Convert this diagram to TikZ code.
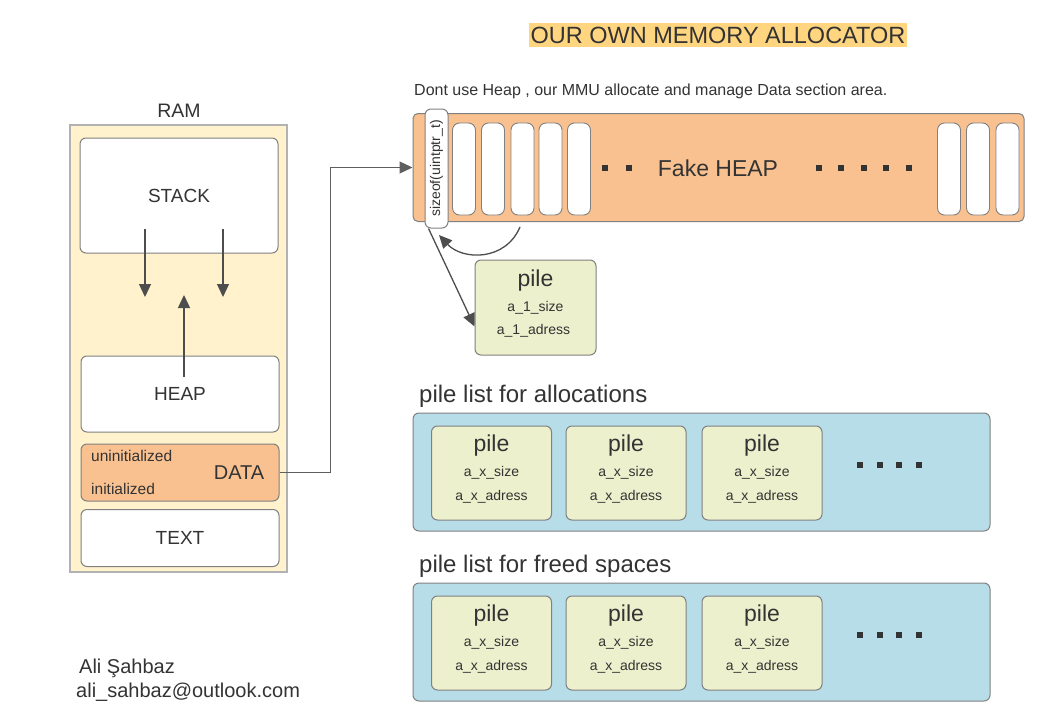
\documentclass[tikz,border=0pt]{standalone}
\usepackage{fontspec}
\setmainfont{Liberation Sans}
\definecolor{RamYellow}{RGB}{255,242,204}
\definecolor{SegOrange}{RGB}{249,193,144}
\definecolor{TitleGold}{RGB}{255,213,128}
\definecolor{PileOlive}{RGB}{237,240,204}
\definecolor{ListBlue}{RGB}{183,221,232}
\definecolor{EdgeGray}{RGB}{128,128,128}
\definecolor{InkGray}{RGB}{51,51,51}
\definecolor{ArrowGray}{RGB}{77,77,77}
\usetikzlibrary{arrows.meta, positioning, calc}
\newcommand{\pxsize}[1]{\fontsize{#1}{#1}\selectfont}

\begin{document}
\begin{tikzpicture}[x=1pt, y=-1pt, text=InkGray, inner sep=0pt,
	ramseg/.style={draw=EdgeGray, line width=1pt, rounded corners=6pt, fill=white,
		minimum width=198pt, font=\pxsize{19}},
	cell/.style={draw=EdgeGray, line width=0.9pt, rounded corners=7pt, fill=white,
		minimum width=23pt, minimum height=92pt},
	pilebox/.style={draw=EdgeGray, line width=1pt, rounded corners=6pt, fill=PileOlive,
		minimum width=120pt, minimum height=94pt},
	listbox/.style={draw=EdgeGray, line width=1pt, rounded corners=6pt, fill=ListBlue,
		minimum width=577pt, minimum height=118pt},
	pilehead/.style={font=\pxsize{23}},
	pilefield/.style={font=\pxsize{14}},
	caption/.style={anchor=west, font=\pxsize{24}},
	dotsq/.style={fill=InkGray, minimum size=6pt},
	arr/.style={ArrowGray, line width=1.3pt, -{Triangle[length=13pt,width=12pt]}}]
	\useasboundingbox (0,0) rectangle (1052,720);

	\node[fill=TitleGold, inner xsep=1.5pt, minimum height=24pt, font=\pxsize{23.5}] (ttl) at (718,35) {OUR OWN MEMORY ALLOCATOR};
	\node[anchor=west, font=\pxsize{16}] (sub) at (414,91) {Dont use Heap , our MMU allocate and manage Data section area.};

	% RAM
	\node[font=\pxsize{19.5}] (ramlbl) at (179,111) {RAM};
	\node[draw=black!30, line width=2pt, fill=RamYellow, minimum width=217pt, minimum height=447pt] (ram) at (178.5,348.5) {};
	\node[ramseg, minimum height=115pt] (stack) at (179,195.5) {STACK};
	\node[ramseg, minimum height=76pt] (heap) at (180,394) {HEAP};
	\node[ramseg, minimum height=57pt, fill=SegOrange] (data) at (180,472.5) {};
	\node[ramseg, minimum height=57pt] (text) at (180,538) {TEXT};
	\node[anchor=west, font=\pxsize{15.5}] (uninit) at (91,456) {uninitialized};
	\node[anchor=west, font=\pxsize{15.5}] (init) at (91,488.5) {initialized};
	\node[font=\pxsize{20}] (datalbl) at (239,472.5) {DATA};

	\coordinate (sl0) at (145,229);
	\coordinate (sl1) at (145,297);
	\coordinate (sr0) at (223,229);
	\coordinate (sr1) at (223,297);
	\coordinate (hp0) at (184,377);
	\coordinate (hp1) at (184,295);
	\draw[arr] (sl0) -- (sl1);
	\draw[arr] (sr0) -- (sr1);
	\draw[arr] (hp0) -- (hp1);

	% fake heap
	\node[draw=EdgeGray, line width=1pt, rounded corners=5pt, fill=SegOrange,
		minimum width=611pt, minimum height=108pt] (fake) at (718.5,167.5) {};
	\foreach \x [count=\i] in {464,493,522.5,550.5,579,949,978,1007.5}
		\node[cell] (c\i) at (\x,169) {};
	\node[draw=EdgeGray, line width=1pt, rounded corners=6pt, fill=white,
		minimum width=23pt, minimum height=119pt] (szf) at (436.5,168.5) {};
	\node[rotate=90, font=\pxsize{14}] (szftxt) at (szf.center) {sizeof(uintptr\_t)};
	\foreach \x [count=\i] in {605,629,818.5,841,864,886,909}
		\node[dotsq] (d\i) at (\x,167.5) {};
	\node[font=\pxsize{23}] (fakelbl) at (718,168) {Fake HEAP};

	\draw[ArrowGray!90, line width=1.3pt, -{Triangle[length=13pt,width=12pt]}]
		(data.east) -- ++(51,0) |- (fake.west);

	% pile for a_1
	\node[pilebox, minimum width=121pt, minimum height=95pt] (pile1) at (535.5,307.5) {};
	\node[pilehead] (p1h) at (535.5,281) {pile};
	\node[pilefield] (p1s) at (535.5,307.5) {a\_1\_size};
	\node[pilefield] (p1a) at (533.5,331) {a\_1\_adress};

	\coordinate (loopA) at (520,227);
	\coordinate (loopB) at (439,235);
	\draw[arr] (loopA) .. controls (505,262) and (462,260) .. (loopB);
	\draw[arr] ([xshift=-8pt]szf.south) -- ([yshift=-19pt]pile1.west);

	% pile lists
	\node[caption] (capa) at (419,396) {pile list for allocations};
	\node[caption] (capf) at (419,566) {pile list for freed spaces};
	\node[listbox] (alloc) at (701.5,472) {};
	\node[listbox] (freed) at (701.5,642) {};
	\foreach \row/\yc in {a/473, f/643}{
		\foreach \x [count=\i] in {491.5,626,762}{
			\node[pilebox] (p\row\i) at (\x,\yc) {};
			\node[pilehead] (p\row\i h) at (\x,\yc-27) {pile};
			\node[pilefield] (p\row\i s) at (\x,\yc) {a\_x\_size};
			\node[pilefield] (p\row\i a) at (\x,\yc+23.5) {a\_x\_adress};
		}
		\foreach \x [count=\i] in {860,880,899,919}
			\node[dotsq] (d\row\i) at (\x,\yc-8) {};
	}

	\node[anchor=west, font=\pxsize{20}] (auth) at (79,668) {Ali Şahbaz};
	\node[anchor=west, font=\pxsize{20}] (mail) at (76,692) {ali\_sahbaz@outlook.com};
\end{tikzpicture}
\end{document}
